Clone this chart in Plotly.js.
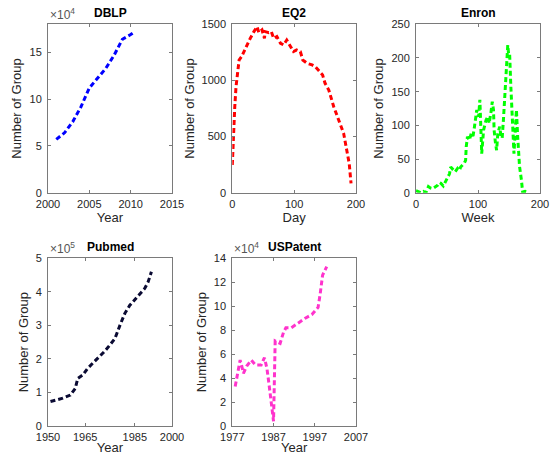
<!DOCTYPE html>
<html>
<head>
<meta charset="utf-8">
<script src="https://cdn.plot.ly/plotly-3.0.1.min.js"></script>
<style>html,body{margin:0;padding:0;background:#fff;}#chart{width:555px;height:455px;}</style>
</head>
<body>
<div id="chart"></div>
<script>
// ---- DBLP ----
const dblpYear = [2001, 2002, 2003, 2004, 2005, 2006, 2007, 2008, 2009, 2010, 2010.5];
const dblpGroups = [57000, 64000, 76000, 92000, 112000, 122000, 133000, 147000, 164000, 169000, 172000];

// ---- EQ2 ----
const eq2Day = [0,1,2,4,6,9,11,15,20,24,29,35,40,43,48,52,53,59,63,67,72,78,83,88,94,99,104,110,114,121,129,134,139,146,150,156,164,172,180,185,189,192];
const eq2Groups = [247,410,588,766,944,1123,1182,1212,1271,1331,1375,1435,1479,1426,1450,1375,1435,1426,1435,1375,1390,1331,1316,1360,1301,1257,1271,1257,1182,1152,1138,1123,1093,1049,974,915,766,647,529,380,261,83];

// ---- Enron ----
const enronWeek = [0,4,8,12,16,20,23,27,31,35,38,40,44,48,51,54,56,60,63,67,70,72,75,78,80,81,83,86,89,92,94,96,98,100,101,103,105,106,109,111,113,116,118,121,123,125,126,128,130,132,135,137,139,141,144,146,148,150,151,153,155,156,158,160,162,164,167,170,172,176,180];
const enronGroups = [3,1,0,2,0,9,7,6,8,11,15,14,10,18,24,28,38,34,31,36,33,38,41,44,48,68,83,78,88,84,96,110,123,115,113,138,98,58,93,100,108,113,103,120,135,123,93,75,63,88,98,84,81,108,157,182,219,200,207,157,128,98,58,93,123,83,39,19,1,2,1];

// ---- Pubmed ----
const pubmedYear = [1951,1954,1956,1959,1961,1962,1964,1966,1968,1971,1973,1975,1977,1979,1981,1983,1985,1987,1989,1990.4,1991.7];
const pubmedGroups = [73000,78000,83000,92000,112000,142000,152000,172000,187000,207000,224000,242000,261000,300000,336000,360000,376000,391000,410000,430000,460000];

// ---- USPatent ----
const usYear = [1977.7,1978.5,1978.9,1979.3,1979.7,1980.5,1981.6,1982.6,1984.0,1984.8,1985.4,1985.9,1986.4,1986.7,1987.0,1987.4,1988.6,1989.4,1990.0,1991.3,1992.7,1994.7,1996.3,1997.8,1998.3,1998.9,1999.9];
const usGroups = [33000,48000,55000,50000,44000,50000,55000,51000,51000,57000,48000,35000,21000,12000,4000,71000,69000,78000,82000,82000,85500,90000,93000,99000,110000,126000,133000];

// ---- axis tick settings ----
const dblpYTicks = [0, 50000, 100000, 150000];
const dblpYText = ['0', '5', '10', '15'];
const dblpXTicks = [2000, 2005, 2010, 2015];
const eq2YTicks = [0, 500, 1000, 1500];
const eq2XTicks = [0, 100, 200];
const enronYTicks = [0, 50, 100, 150, 200, 250];
const enronXTicks = [0, 100, 200];
const pubmedYTicks = [0, 100000, 200000, 300000, 400000, 500000];
const pubmedYText = ['0', '1', '2', '3', '4', '5'];
const pubmedXTicks = [1950, 1965, 1985, 2000];
const usYTicks = [0, 20000, 40000, 60000, 80000, 100000, 120000, 140000];
const usYText = ['0', '2', '4', '6', '8', '10', '12', '14'];
const usXTicks = [1977, 1987, 1997, 2007];

const FONT = 'Liberation Sans, Arial, Helvetica, sans-serif';
const TXT = '#262626';
const AXC = '#7a7a7a';

function trace(x, y, color, xa, ya) {
  return {x: x, y: y, type: 'scatter', mode: 'lines', xaxis: xa, yaxis: ya,
    line: {color: color, width: 3, dash: '5px,3px'}, hoverinfo: 'skip', showlegend: false};
}
const traces = [
  trace(dblpYear, dblpGroups, '#0000ff', 'x', 'y'),
  trace(eq2Day, eq2Groups, '#ff0000', 'x2', 'y2'),
  trace(enronWeek, enronGroups, '#00ff00', 'x3', 'y3'),
  trace(pubmedYear, pubmedGroups, '#0a0a33', 'x4', 'y4'),
  trace(usYear, usGroups, '#ff33cc', 'x5', 'y5')
];

function xa(domain, range, tickvals, anchor, title) {
  return {domain: domain, range: range, tickvals: tickvals, anchor: anchor,
    showline: true, linecolor: AXC, linewidth: 1, mirror: 'ticks', ticks: 'inside', ticklen: 3, tickcolor: AXC,
    showgrid: false, zeroline: false, tickfont: {family: FONT, size: 11, color: TXT}, ticklabelstandoff: 1,
    title: {text: title, font: {family: FONT, size: 13, color: TXT}, standoff: 1}};
}
function ya(domain, range, tickvals, ticktext, anchor) {
  const o = {domain: domain, range: range, tickvals: tickvals, anchor: anchor,
    showline: true, linecolor: AXC, linewidth: 1, mirror: 'ticks', ticks: 'inside', ticklen: 3, tickcolor: AXC,
    showgrid: false, zeroline: false, tickfont: {family: FONT, size: 11, color: TXT}, ticklabelstandoff: 3,
    title: {text: 'Number of Group', font: {family: FONT, size: 13, color: TXT}, standoff: 4}};
  if (ticktext) o.ticktext = ticktext;
  return o;
}

const rowTop = [1 - 192.7/455, 1 - 24.3/455];
const rowBot = [1 - 426/455, 1 - 258.3/455];
const c1 = [48/555, 172/555], c2 = [232.3/555, 356/555], c3 = [416/555, 540/555];

function ttl(text, xdom, ytop) {
  return {text: '<b>' + text + '</b>', xref: 'paper', yref: 'paper', x: (xdom[0]+xdom[1])/2, y: ytop,
    xanchor: 'center', yanchor: 'bottom', yshift: 2, showarrow: false, font: {family: FONT, size: 12, color: '#000'}};
}
function expo(text, xdom, ytop) {
  return {text: text, xref: 'paper', yref: 'paper', x: xdom[0], y: ytop, xanchor: 'left', yanchor: 'bottom',
    yshift: 0, showarrow: false, font: {family: FONT, size: 12, color: '#555'}};
}

const layout = {
  width: 555, height: 455, margin: {l: 0, r: 0, t: 0, b: 0}, paper_bgcolor: '#fff', plot_bgcolor: '#fff',
  showlegend: false,
  xaxis: xa(c1, [2000, 2015], dblpXTicks, 'y', 'Year'),
  yaxis: ya(rowTop, [0, 180000], dblpYTicks, dblpYText, 'x'),
  xaxis2: xa(c2, [0, 200], eq2XTicks, 'y2', 'Day'),
  yaxis2: ya(rowTop, [0, 1500], eq2YTicks, null, 'x2'),
  xaxis3: xa(c3, [0, 200], enronXTicks, 'y3', 'Week'),
  yaxis3: ya(rowTop, [0, 250], enronYTicks, null, 'x3'),
  xaxis4: xa(c1, [1950, 2000], pubmedXTicks, 'y4', 'Year'),
  yaxis4: ya(rowBot, [0, 500000], pubmedYTicks, pubmedYText, 'x4'),
  xaxis5: xa(c2, [1977, 2007], usXTicks, 'y5', 'Year'),
  yaxis5: ya(rowBot, [0, 140000], usYTicks, usYText, 'x5'),
  annotations: [
    ttl('DBLP', c1, rowTop[1]), ttl('EQ2', c2, rowTop[1]), ttl('Enron', c3, rowTop[1]),
    ttl('Pubmed', c1, rowBot[1]), ttl('USPatent', c2, rowBot[1]),
    expo('×10<sup>4</sup>', c1, rowTop[1]), expo('×10<sup>5</sup>', c1, rowBot[1]), expo('×10<sup>4</sup>', c2, rowBot[1])
  ]
};

Plotly.newPlot('chart', traces, layout, {staticPlot: true, displayModeBar: false});
</script>
</body>
</html>
